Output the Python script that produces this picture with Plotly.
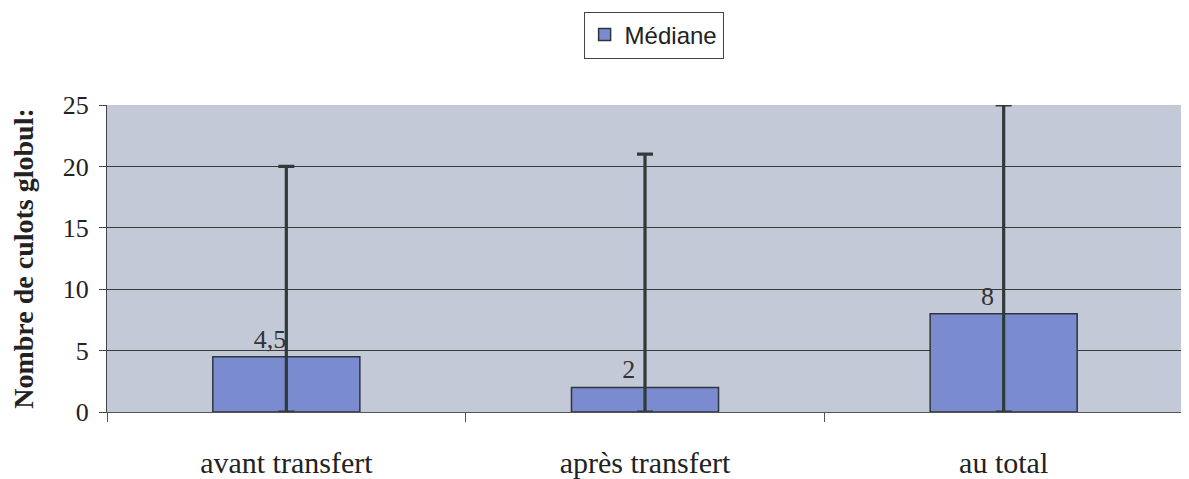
import plotly.graph_objects as go

categories = ["avant transfert", "après transfert", "au total"]
medians = [4.5, 2, 8]
maxima = [20, 21, 25]
minima = [0, 0, 0]
labels = ["4,5", "2", "8"]

err_plus = [mx - m for mx, m in zip(maxima, medians)]
err_minus = [m - mn for m, mn in zip(medians, minima)]

pad = "\u00a0" * 5
shown_labels = [t + pad for t in labels]

fig = go.Figure()
fig.add_trace(go.Bar(
    x=categories, y=medians, name="Médiane",
    marker=dict(color="#7b8bd0", line=dict(color="#2c3838", width=1.5)),
    width=0.41,
    text=shown_labels, textposition="outside", cliponaxis=False,
    textfont=dict(family="Liberation Serif", size=26, color="#333333"),
    error_y=dict(type="data", symmetric=False, array=err_plus, arrayminus=err_minus,
                 color="#2f3a3a", thickness=3.2, width=8),
    showlegend=True,
))

fig.update_layout(
    width=1189, height=479,
    margin=dict(l=99, r=14, t=97, b=75, autoexpand=False),
    paper_bgcolor="white",
    plot_bgcolor="#c4c9d8",
    showlegend=True,
    legend=dict(x=0.508, y=1.228, xanchor="center", yanchor="middle",
                orientation="h", bordercolor="#444444", borderwidth=1,
                bgcolor="white",
                font=dict(family="Liberation Sans", size=24, color="#222222"),
                itemwidth=30),
    xaxis=dict(showline=True, linecolor="#555555", linewidth=1,
               ticks="outside", tickson="boundaries", ticklen=9, tickcolor="#555555",
               tickfont=dict(family="Liberation Serif", size=30, color="#222222"),
               ticklabelstandoff=24,
               showgrid=False),
    yaxis=dict(range=[0, 25], dtick=5, showline=True, linecolor="#444444", linewidth=1,
               ticks="outside", ticklen=7, tickcolor="#444444",
               ticklabelstandoff=5,
               tickfont=dict(family="Liberation Serif", size=26, color="#222222"),
               gridcolor="#3a3a3a", gridwidth=1, zeroline=False,
               title=dict(text="<b>Nombre de culots globul:</b>",
                          font=dict(family="Liberation Serif", size=28, color="#222222"),
                          standoff=22)),
    bargap=0.59,
)

fig.write_html("out.html")
